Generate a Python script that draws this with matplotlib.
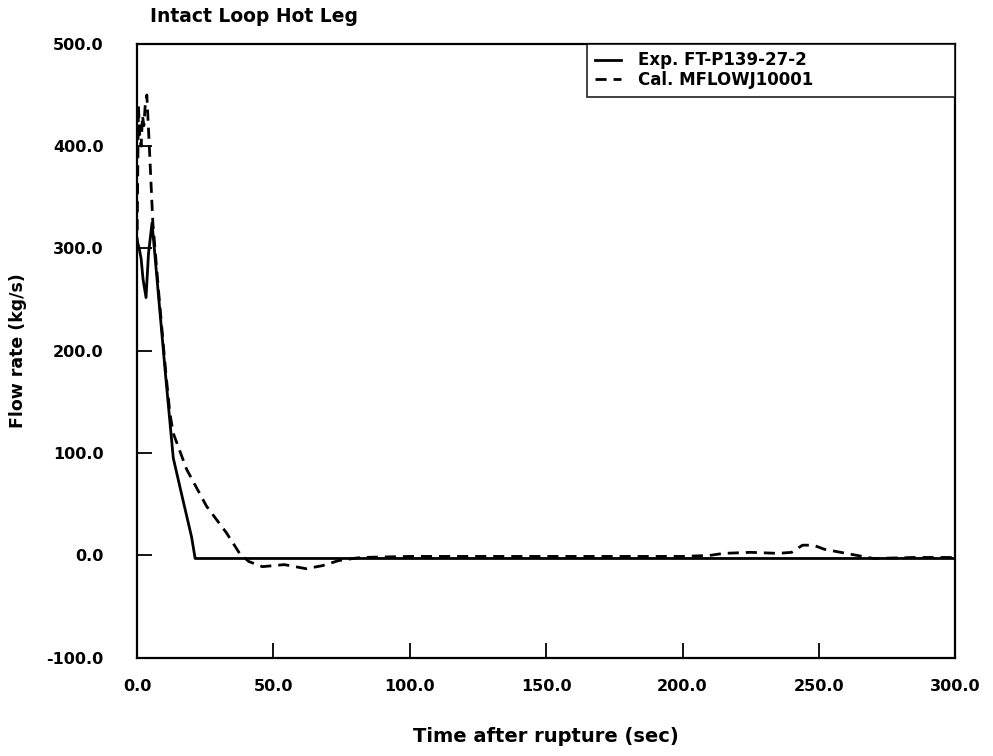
import numpy as np
import matplotlib.pyplot as plt

# Experiment FT-P139-27-2 (solid)
exp_t = [0.0, 0.8, 1.5, 2.2, 3.3, 4.2, 5.5, 8.0, 10.5, 13.3, 16.5, 20.0, 21.3, 60.0, 120.0, 180.0, 240.0, 300.0]
exp_v = [308, 300, 290, 270, 252, 295, 325, 250, 175, 95, 58, 18, -3, -3, -3, -3, -3, -3]

# Calculation MFLOWJ10001 (dashed)
cal_t = [0.0, 0.5, 1.0, 1.5, 2.0, 2.5, 3.0, 3.6, 4.5, 5.8, 8.0, 10.5, 12.0, 13.2, 18.2, 25.5,
         32.8, 37.6, 41.0, 46.0, 50.0, 54.0, 58.0, 62.0, 68.0, 74.0, 82.0, 100.0, 150.0, 200.0,
         210.0, 215.0, 225.0, 235.0, 240.0, 244.0, 248.0, 252.0, 258.0, 264.0, 270.0, 285.0, 300.0]
cal_v = [300, 440, 410, 400, 430, 420, 440, 450, 400, 325, 255, 180, 140, 120, 84, 48,
         22, 2, -6, -11, -10, -9, -11, -13, -10, -5, -2, -1, -1, -1,
         0, 2, 3, 2, 3, 10, 10, 6, 3, 0, -3, -2, -2]

fig = plt.figure(figsize=(9.93, 7.56), dpi=100)
ax = fig.add_axes([0.138, 0.130, 0.824, 0.812])

ax.plot(exp_t, exp_v, color="black", lw=2.0, label="Exp. FT-P139-27-2")
ax.plot(cal_t, cal_v, color="black", lw=2.0, linestyle=(0, (4, 2.5)), label="Cal. MFLOWJ10001")

ax.set_xlim(0, 300)
ax.set_ylim(-100, 500)
ax.set_xticks(np.arange(0, 301, 50))
ax.set_yticks(np.arange(-100, 501, 100))
ax.set_xticklabels([f"{v:.1f}" for v in np.arange(0, 301, 50)])
ax.set_yticklabels([f"{v:.1f}" for v in np.arange(-100, 501, 100)])
ax.tick_params(direction="in", length=11, width=1.3, labelsize=11.5)
ax.tick_params(axis="x", pad=15)
ax.tick_params(axis="y", pad=24)
for lbl in ax.get_xticklabels() + ax.get_yticklabels():
    lbl.set_fontweight("bold")
for s in ax.spines.values():
    s.set_linewidth(1.6)

ax.set_xlabel("Time after rupture (sec)", fontsize=14, fontweight="bold", labelpad=24)
ax.set_ylabel("Flow rate (kg/s)", fontsize=12.5, fontweight="bold", labelpad=14)
fig.text(0.151, 0.978, "Intact Loop Hot Leg", fontsize=13.5, fontweight="bold", va="center")

leg = ax.legend(loc="upper right", bbox_to_anchor=(0.55, 0.0, 0.45, 1.0), mode="expand",
                borderaxespad=0, fancybox=False, edgecolor="black",
                handlelength=1.6, handletextpad=1.0, prop={"weight": "bold", "size": 12},
                borderpad=0.45, labelspacing=0.1)
leg.get_frame().set_linewidth(1.3)

fig.savefig("out.png", dpi=100)
